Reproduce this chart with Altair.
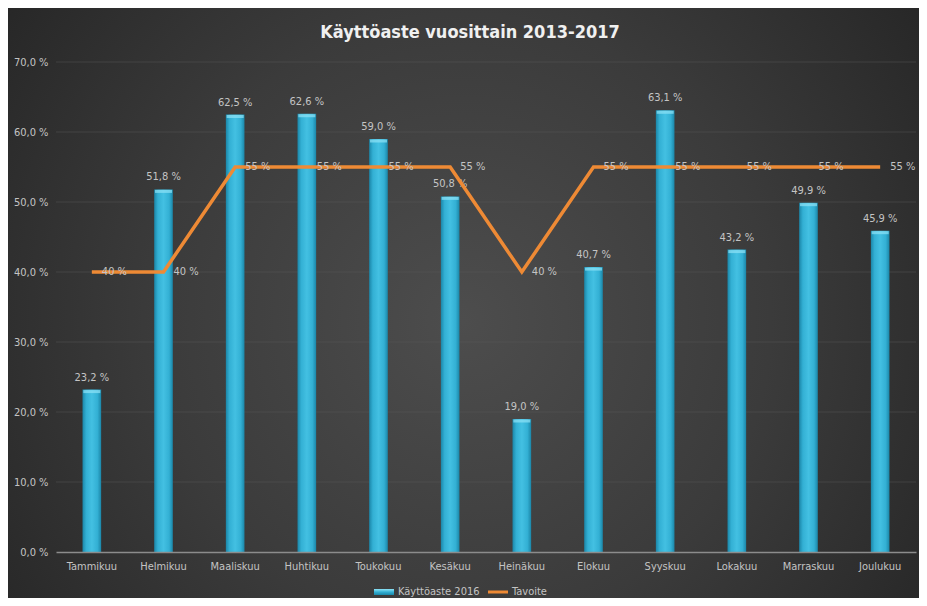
import altair as alt
import pandas as pd

months = ["Tammikuu", "Helmikuu", "Maaliskuu", "Huhtikuu", "Toukokuu", "Kesäkuu",
          "Heinäkuu", "Elokuu", "Syyskuu", "Lokakuu", "Marraskuu", "Joulukuu"]
usage = [23.2, 51.8, 62.5, 62.6, 59.0, 50.8, 19.0, 40.7, 63.1, 43.2, 49.9, 45.9]
target = [40, 40, 55, 55, 55, 55, 40, 55, 55, 55, 55, 55]
y_ticks = [0, 10, 20, 30, 40, 50, 60, 70]
title_text = "Käyttöaste vuosittain 2013-2017"
series_names = ["Käyttöaste 2016", "Tavoite"]

W, H = 860, 490
FONT = "DejaVu Sans Condensed, Liberation Sans Narrow, sans-serif"
LABEL = "#c4c4c4"
ORANGE = "#ee8a35"

df = pd.DataFrame({"month": months, "usage": usage, "target": target})
one = alt.Data(values=[{}])
grid_df = pd.DataFrame({"g": y_ticks[1:]})

x_enc = alt.X("month:N", sort=months,
              scale=alt.Scale(paddingInner=0.74, paddingOuter=0.37),
              axis=alt.Axis(title=None, labelAngle=0, ticks=False, domain=True,
                            domainColor="#8c8c8c", domainWidth=1.5,
                            labelColor=LABEL, labelFont=FONT, labelFontSize=11,
                            labelPadding=8, zindex=1, grid=False))
y_scale = alt.Scale(domain=[0, 70], nice=False)

bg = alt.Chart(one).mark_rect(
    fill=alt.RadialGradient(
        gradient="radial", x1=0.5, y1=0.52, r1=0, x2=0.5, y2=0.52, r2=0.75,
        stops=[alt.GradientStop(color="#4d4d4d", offset=0),
               alt.GradientStop(color="#3b3b3b", offset=0.45),
               alt.GradientStop(color="#1d1d1d", offset=1)])
).encode(x=alt.value(-48), x2=alt.value(W + 3), y=alt.value(-54), y2=alt.value(H + 46))

grid = alt.Chart(grid_df).mark_rule(color="#5a5a5a", strokeWidth=1, opacity=0.45).encode(
    y=alt.Y("g:Q", scale=y_scale), x=alt.value(0), x2=alt.value(W))

base = alt.Chart(df)

bars = base.mark_bar(
    fill=alt.LinearGradient(
        gradient="linear", x1=0, x2=1, y1=0, y2=0,
        stops=[alt.GradientStop(color="#1b86a8", offset=0),
               alt.GradientStop(color="#33b0d4", offset=0.2),
               alt.GradientStop(color="#43c0e2", offset=0.5),
               alt.GradientStop(color="#33b0d4", offset=0.8),
               alt.GradientStop(color="#1b86a8", offset=1)])
).encode(
    x=x_enc,
    y=alt.Y("usage:Q", scale=y_scale,
            axis=alt.Axis(title=None, values=y_ticks, grid=False, ticks=False, domain=False,
                          labelColor=LABEL, labelFont=FONT, labelFontSize=11,
                          labelPadding=8, zindex=1,
                          labelExpr="replace(format(datum.value, '.1f'), '.', ',') + ' %'")))

caps = base.mark_tick(color="#8fe3f6", thickness=3, size=17, yOffset=2).encode(
    x=alt.X("month:N", sort=months), y=alt.Y("usage:Q", scale=y_scale))

bar_labels = base.transform_calculate(
    lbl="replace(format(datum.usage, '.1f'), '.', ',') + ' %'"
).mark_text(dy=-12, color=LABEL, font=FONT, fontSize=11, baseline="middle").encode(
    x=alt.X("month:N", sort=months), y=alt.Y("usage:Q", scale=y_scale), text="lbl:N")

line = base.mark_line(color=ORANGE, strokeWidth=3.5).encode(
    x=alt.X("month:N", sort=months), y=alt.Y("target:Q", scale=y_scale))

line_labels = base.transform_calculate(
    lbl="format(datum.target, 'd') + ' %'"
).mark_text(dx=10, align="left", baseline="middle", color=LABEL, font=FONT, fontSize=11).encode(
    x=alt.X("month:N", sort=months), y=alt.Y("target:Q", scale=y_scale), text="lbl:N")

title = alt.Chart(one).mark_text(
    text=title_text, font=FONT, fontSize=18, fontWeight="bold", color="#f0f0f0",
    align="center", baseline="middle"
).encode(x=alt.value(414), y=alt.value(-29))

leg_sym1 = alt.Chart(one).mark_rect(
    fill=alt.LinearGradient(
        gradient="linear", x1=0, x2=0, y1=0, y2=1,
        stops=[alt.GradientStop(color="#8fe3f6", offset=0),
               alt.GradientStop(color="#33b0d4", offset=0.5),
               alt.GradientStop(color="#1b86a8", offset=1)])
).encode(x=alt.value(318), x2=alt.value(338), y=alt.value(527), y2=alt.value(533))
leg_txt1 = alt.Chart(one).mark_text(
    text=series_names[0], align="left", baseline="middle", font=FONT, fontSize=11, color=LABEL
).encode(x=alt.value(342), y=alt.value(530))
leg_sym2 = alt.Chart(one).mark_rule(color=ORANGE, strokeWidth=3).encode(
    x=alt.value(432), x2=alt.value(452), y=alt.value(530))
leg_txt2 = alt.Chart(one).mark_text(
    text=series_names[1], align="left", baseline="middle", font=FONT, fontSize=11, color=LABEL
).encode(x=alt.value(456), y=alt.value(530))

chart = alt.layer(
    bg, grid, bars, caps, bar_labels, line, line_labels, title,
    leg_sym1, leg_txt1, leg_sym2, leg_txt2
).properties(
    width=W, height=H, padding=0, background="#262626"
).configure_view(stroke=None)

chart.save("out.html", embed_options={"renderer": "svg", "actions": False})
